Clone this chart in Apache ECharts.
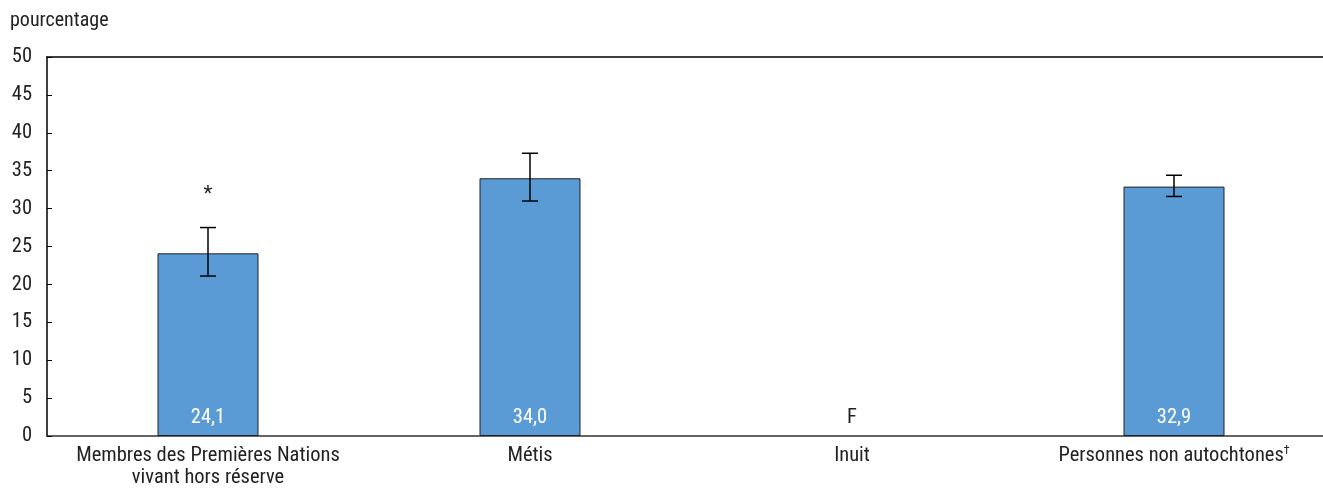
<!DOCTYPE html>
<html><head><meta charset="utf-8">
<script src="https://cdn.jsdelivr.net/npm/echarts@6/dist/echarts.min.js"></script>
<style>html,body{margin:0;padding:0;background:#fff}#c{width:1323px;height:489px}</style>
</head><body><div id="c"></div>
<script>
const categories = ['Membres des Premières Nations\nvivant hors réserve', 'Métis', 'Inuit', 'Personnes non autochtones{d|†}'];
const values = [24.1, 34.0, null, 32.9];
const errLow = [21.1, 31.0, null, 31.6];
const errHigh = [27.5, 37.3, null, 34.4];
const flags = ['*', '', 'F', ''];
const yTicks = [0, 50, 5];

const FONT = '"Liberation Sans Narrow", "Roboto Condensed", Roboto, sans-serif';
const FS = 20.5;
const chart = echarts.init(document.getElementById('c'));
chart.setOption({
  animation: false,
  graphic: [{type:'text', left: 10, top: 11, style:{text:'pourcentage', font:'20px ' + FONT, fill:'#222'}}],
  grid: {left: 47, top: 57, right: -12, bottom: 53, outerBoundsMode: 'none', containLabel: false, show: false},
  xAxis: [{
    type: 'category', data: categories,
    axisLine: {lineStyle: {color: '#333', width: 1.5}},
    axisTick: {show: false},
    axisLabel: {interval: 0, fontFamily: FONT, fontSize: FS, color: '#222', margin: 9, lineHeight: 22,
      rich: {d: {fontSize: 12, verticalAlign: 'top', color: '#222', fontFamily: FONT, padding: [0,0,9,0]}}}
  }, {
    type: 'category', data: categories, position: 'top',
    axisLine: {show: true, lineStyle: {color: '#000', width: 1.5}},
    axisTick: {show: false}, axisLabel: {show: false}, splitLine: {show: false}
  }],
  yAxis: {
    type: 'value', min: yTicks[0], max: yTicks[1], interval: yTicks[2],
    axisLine: {show: true, lineStyle: {color: '#000', width: 1.5}},
    axisTick: {show: true, inside: true, length: 5, lineStyle: {color: '#000'}},
    splitLine: {show: false},
    axisLabel: {fontFamily: FONT, fontSize: FS, color: '#222', margin: 15}
  },
  series: [
    {
      type: 'bar', data: values, barWidth: 101,
      itemStyle: {color: '#5b9bd5', borderColor: '#222', borderWidth: 1},
      label: {show: true, position: 'insideBottom', distance: 8, color: '#fff', fontFamily: FONT, fontSize: FS,
        formatter: p => p.value == null ? '' : p.value.toFixed(1).replace('.', ',')}
    },
    {
      type: 'custom', z: 5,
      data: categories.map((c, i) => [i, errLow[i], errHigh[i]]),
      renderItem: (params, api) => {
        const i = api.value(0);
        if (errLow[i] == null) return null;
        const lo = api.coord([i, api.value(1)]);
        const hi = api.coord([i, api.value(2)]);
        const w = 8;
        const st = {stroke: '#000', lineWidth: 1.5};
        return {type: 'group', children: [
          {type: 'line', shape: {x1: lo[0], y1: lo[1], x2: hi[0], y2: hi[1]}, style: st},
          {type: 'line', shape: {x1: lo[0]-w, y1: lo[1], x2: lo[0]+w, y2: lo[1]}, style: st},
          {type: 'line', shape: {x1: hi[0]-w, y1: hi[1], x2: hi[0]+w, y2: hi[1]}, style: st}
        ]};
      }
    },
    {
      type: 'custom', z: 6,
      data: flags.map((f, i) => [i, f]),
      renderItem: (params, api) => {
        const i = params.dataIndex;
        const f = flags[i];
        if (!f) return null;
        let p;
        if (errHigh[i] != null) {
          p = api.coord([i, errHigh[i]]);
          return {type: 'text', x: p[0], y: p[1] - 22, style: {text: f, font: FS + 'px ' + FONT, fill: '#222', align: 'center', verticalAlign: 'bottom'}};
        }
        p = api.coord([i, 0]);
        return {type: 'text', x: p[0], y: p[1] - 8, style: {text: f, font: FS + 'px ' + FONT, fill: '#222', align: 'center', verticalAlign: 'bottom'}};
      }
    }
  ]
});
</script></body></html>
